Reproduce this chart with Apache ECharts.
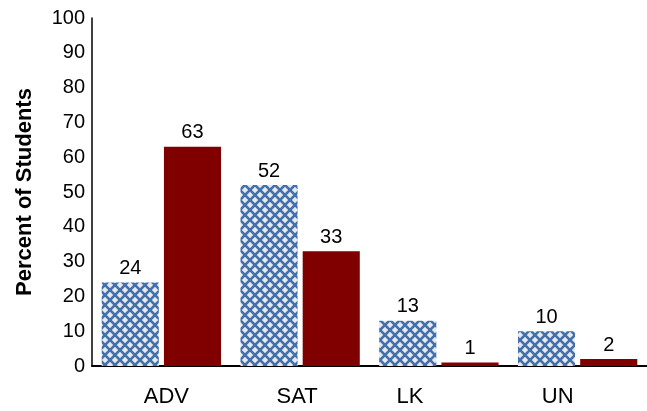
<!DOCTYPE html>
<html><head><meta charset="utf-8">
<script src="https://cdn.jsdelivr.net/npm/echarts@6/dist/echarts.min.js"></script>
<style>html,body{margin:0;padding:0;background:#fff}#c{width:647px;height:411px}</style>
</head><body><div id="c"></div>
<script>
var categories = ['ADV', 'SAT', 'LK', 'UN'];
var seriesA = [24, 52, 13, 10];
var seriesB = [63, 33, 1, 2];
var yTicks = [0, 10, 20, 30, 40, 50, 60, 70, 80, 90, 100];

function makePattern() {
  var s = 10;
  var cv = document.createElement('canvas');
  cv.width = s; cv.height = s;
  var ctx = cv.getContext('2d');
  ctx.fillStyle = '#e8e9ed';
  ctx.fillRect(0, 0, s, s);
  ctx.strokeStyle = '#4170ad';
  ctx.lineWidth = 2.6;
  ctx.beginPath();
  ctx.moveTo(-1, -1); ctx.lineTo(s + 1, s + 1);
  ctx.moveTo(-1, s + 1); ctx.lineTo(s + 1, -1);
  ctx.stroke();
  return cv;
}

var FONT = 'Liberation Sans, Arial, sans-serif';
var chart = echarts.init(document.getElementById('c'));
var labelOffsets = {ADV: 10, SAT: -6, LK: -58, UN: -40};
var rich = {};
categories.forEach(function (c) {
  var o = labelOffsets[c];
  rich[c] = {fontSize: 22, fontFamily: FONT, color: '#000',
    padding: o >= 0 ? [0, 0, 0, o] : [0, -o, 0, 0]};
});
chart.setOption({
  animation: false,
  grid: {left: 92, right: 0, top: 18, bottom: 45, containLabel: false},
  xAxis: {
    type: 'category', data: categories,
    axisLine: {lineStyle: {color: '#000', width: 2}},
    axisTick: {show: false},
    axisLabel: {margin: 20, formatter: function (v) { return '{' + v + '|' + v + '}'; }, rich: rich}
  },
  yAxis: {
    type: 'value', min: 0, max: 100, interval: 10,
    name: 'Percent of Students', nameLocation: 'middle', nameGap: 56,
    nameTextStyle: {fontSize: 22, fontWeight: 'bold', fontFamily: FONT, color: '#000'},
    axisLine: {show: true, lineStyle: {color: '#000', width: 1.5}},
    axisTick: {show: false},
    splitLine: {show: false},
    axisLabel: {fontSize: 20, fontFamily: FONT, color: '#000', margin: 7,
      formatter: function (v) { return yTicks.indexOf(v) >= 0 ? String(v) : ''; }}
  },
  series: [
    {type: 'bar', data: seriesA, barGap: '9%', barCategoryGap: '14%',
      itemStyle: {color: {image: makePattern(), repeat: 'repeat'}},
      label: {show: true, position: 'top', distance: 4, fontSize: 20, fontFamily: FONT, color: '#000'}},
    {type: 'bar', data: seriesB,
      itemStyle: {color: '#800000'},
      label: {show: true, position: 'top', distance: 4, fontSize: 20, fontFamily: FONT, color: '#000'}}
  ]
});
</script></body></html>
